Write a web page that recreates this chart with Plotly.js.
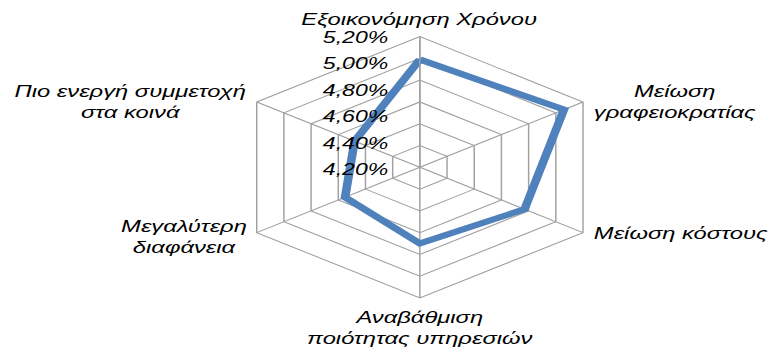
<!DOCTYPE html>
<html>
<head>
<meta charset="utf-8">
<script src="https://cdn.plot.ly/plotly-3.0.1.min.js"></script>
<style>
  html, body { margin: 0; padding: 0; background: #ffffff; overflow: hidden; }
  #wrap { width: 774px; height: 347px; overflow: hidden; position: relative; }
  #chart { width: 537px; height: 347px; transform: scaleX(1.4413); transform-origin: 0 0; position: absolute; left: 0; top: 0; }
</style>
</head>
<body>
<div id="wrap"><div id="chart"></div></div>
<script>
// ---- data ----
const categories = [
  'Εξοικονόμηση Χρόνου',
  'Μείωση<br>γραφειοκρατίας',
  'Μείωση κόστους',
  'Αναβάθμιση<br>ποιότητας υπηρεσιών',
  'Μεγαλύτερη<br>διαφάνεια',
  'Πιο ενεργή συμμετοχή<br>στα κοινά'
];
const values = [4.99, 5.06, 4.77, 4.70, 4.55, 4.48];
const tickValues = [5.2, 5.0, 4.8, 4.6, 4.4, 4.2];
const tickLabels = ['5,20%', '5,00%', '4,80%', '4,60%', '4,40%', '4,20%'];

// ---- layout constants (unstretched px) ----
const W = 537, H = 347;
const cx = 291.3, cy = 167.3, R = 130.7;
const labelRight = 270.6, labelTop = 37.3, labelStep = 26.5;
const font = 'Liberation Sans, Arial, sans-serif';

const trace = {
  type: 'scatterpolar',
  r: values.concat([values[0]]),
  theta: categories.concat([categories[0]]),
  mode: 'lines',
  line: { color: '#4f81bd', width: 6 },
  hoverinfo: 'skip',
  showlegend: false
};

const annotations = tickLabels.map((t, i) => ({
  xref: 'paper', yref: 'paper',
  x: labelRight / W, y: 1 - (labelTop + i * labelStep) / H,
  xanchor: 'right', yanchor: 'middle',
  text: '<i>' + t + '</i>',
  showarrow: false,
  font: { family: font, size: 16, color: '#000000' }
}));

// category labels placed just outside each outer vertex
categories.forEach((c, i) => {
  const a = (90 - 60 * i) * Math.PI / 180;
  const vx = cx + R * Math.cos(a), vy = cy - R * Math.sin(a);
  let x = vx, y = vy, xa = 'center', ya = 'middle';
  if (Math.cos(a) > 0.1) { x = vx + 6; xa = 'left'; }
  else if (Math.cos(a) < -0.1) { x = vx - 5; xa = 'right'; }
  if (Math.cos(a) < -0.1 && Math.sin(a) < 0) { y = vy + 4; }
  if (Math.sin(a) > 0.9) { y = vy - 17; }
  if (Math.sin(a) < -0.9) { y = vy + 8; ya = 'top'; }
  annotations.push({
    xref: 'paper', yref: 'paper',
    x: x / W, y: 1 - y / H,
    xanchor: xa, yanchor: ya, align: 'center',
    text: '<i>' + c + '</i>',
    showarrow: false,
    font: { family: font, size: 16.5, color: '#000000' }
  });
});

const layout = {
  width: W, height: H,
  margin: { l: 0, r: 0, t: 0, b: 0 },
  paper_bgcolor: '#ffffff',
  showlegend: false,
  annotations: annotations,
  polar: {
    domain: { x: [(cx - R) / W, (cx + R) / W], y: [(H - cy - R) / H, (H - cy + R) / H] },
    bgcolor: '#ffffff',
    gridshape: 'linear',
    radialaxis: {
      range: [4.0, 5.2],
      tickvals: tickValues,
      showticklabels: false,
      ticks: '',
      angle: 90,
      showline: true,
      linecolor: '#a0a0a0',
      linewidth: 1,
      gridcolor: '#a0a0a0',
      gridwidth: 1
    },
    angularaxis: {
      direction: 'clockwise',
      rotation: 90,
      ticks: '',
      showticklabels: false,
      showline: true,
      linecolor: '#a0a0a0',
      linewidth: 1,
      gridcolor: '#a0a0a0',
      gridwidth: 1
    }
  }
};

Plotly.newPlot('chart', [trace], layout, { displayModeBar: false, staticPlot: true });
</script>
</body>
</html>
